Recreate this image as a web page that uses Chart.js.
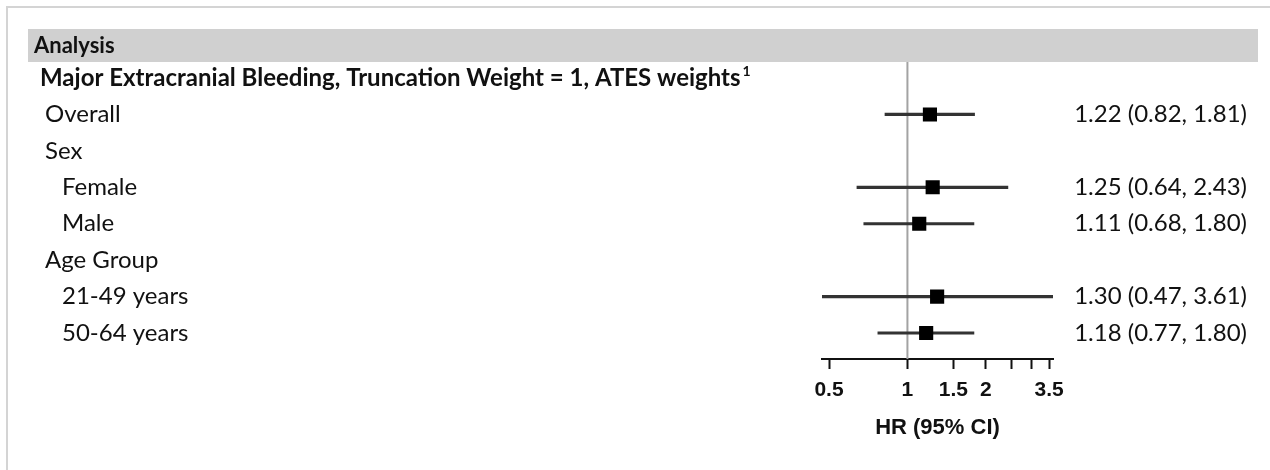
<!DOCTYPE html>
<html>
<head>
<meta charset="utf-8">
<script src="https://cdn.jsdelivr.net/npm/chart.js@4/dist/chart.umd.min.js"></script>
<style>
  html, body { margin: 0; padding: 0; background: #fff; }
  #wrap { width: 1270px; height: 470px; }
</style>
</head>
<body>
<div id="wrap"><canvas id="forest" width="1270" height="470"></canvas></div>
<script>
const heading = 'Analysis'
const outcome = 'Major Extracranial Bleeding, Truncation Weight = 1, ATES weights'
const rowLabels = ['Overall', 'Sex', 'Female', 'Male', 'Age Group', '21-49 years', '50-64 years']
const rowIndent = [0, 0, 1, 1, 0, 1, 1]
const hr = [1.22, null, 1.25, 1.11, null, 1.30, 1.18]
const ciLow = [0.82, null, 0.64, 0.68, null, 0.47, 0.77]
const ciHigh = [1.81, null, 2.43, 1.80, null, 3.61, 1.80]
const tickValues = [0.5, 1, 1.5, 2, 2.5, 3, 3.5]
const tickLabels = ['0.5', '1', '1.5', '2', '', '', '3.5']

const textFont = 'Lato, "Open Sans", sans-serif'
const axisFont = '"Liberation Sans", Arial, sans-serif'

// row 0 is the outcome title, data rows start at 1
const points = []
const intervals = []
hr.forEach((v, i) => {
    if (v === null) return
    points.push({x: v, y: i + 1})
    intervals.push({x: [ciLow[i], ciHigh[i]], y: i + 1})
})

const fmt = (v) => v.toFixed(2)

const tablePlugin = {
    id: 'forestTable',
    beforeDraw(chart) {
        const ctx = chart.ctx
        const y = chart.scales.y
        ctx.save()
        // outer frame
        ctx.strokeStyle = '#d4d4d4'
        ctx.lineWidth = 2
        ctx.beginPath()
        ctx.moveTo(7, 470)
        ctx.lineTo(7, 7)
        ctx.lineTo(1270, 7)
        ctx.stroke()
        // header band
        ctx.fillStyle = '#d0d0d0'
        ctx.fillRect(28, 29, 1230, 33)
        ctx.fillStyle = '#111'
        ctx.textBaseline = 'middle'
        ctx.font = 'bold 22px ' + textFont
        ctx.fillText(heading, 34, 46)
        // outcome title with superscript
        const ty = y.getPixelForValue(0)
        ctx.font = 'bold 24px ' + textFont
        ctx.fillText(outcome, 40, ty)
        const w = ctx.measureText(outcome).width
        ctx.font = 'bold 14px ' + textFont
        ctx.fillText('1', 40 + w + 2, ty - 7)
        // row labels and estimates
        ctx.font = '24px ' + textFont
        rowLabels.forEach((label, i) => {
            const py = y.getPixelForValue(i + 1)
            ctx.textAlign = 'left'
            ctx.fillText(label, 45 + rowIndent[i] * 17, py)
            if (hr[i] !== null) {
                ctx.textAlign = 'right'
                ctx.fillText(`${fmt(hr[i])} (${fmt(ciLow[i])}, ${fmt(ciHigh[i])})`, 1247, py)
            }
        })
        ctx.restore()
    },
    beforeDatasetsDraw(chart) {
        // reference line at HR = 1
        const ctx = chart.ctx
        const px = chart.scales.x.getPixelForValue(1)
        ctx.save()
        ctx.strokeStyle = '#a3a3a3'
        ctx.lineWidth = 2
        ctx.beginPath()
        ctx.moveTo(px, 62)
        ctx.lineTo(px, chart.chartArea.bottom)
        ctx.stroke()
        ctx.restore()
    }
}

new Chart(document.getElementById('forest'), {
    type: 'bar',
    data: {
        datasets: [{
            type: 'scatter',
            data: points,
            pointStyle: 'rect',
            pointRadius: 10,
            pointHoverRadius: 10,
            backgroundColor: '#000',
            borderWidth: 0,
            order: 1
        }, {
            type: 'bar',
            indexAxis: 'y',
            data: intervals,
            backgroundColor: '#333',
            borderWidth: 0,
            barThickness: 2.5,
            order: 2
        }]
    },
    options: {
        responsive: false,
        animation: false,
        events: [],
        layout: {
            padding: {left: 822, right: 217, top: 41.6, bottom: 0}
        },
        plugins: {
            legend: {display: false},
            tooltip: {enabled: false}
        },
        scales: {
            x: {
                type: 'logarithmic',
                offset: false,
                min: 0.47,
                max: 3.62,
                afterBuildTicks: (scale) => {
                    scale.ticks = tickValues.map(v => ({value: v}))
                },
                afterFit: (scale) => {
                    scale.height = 111
                },
                ticks: {
                    autoSkip: false,
                    maxRotation: 0,
                    padding: 9,
                    color: '#111',
                    font: {family: axisFont, size: 21, weight: 'bold'},
                    callback: (value, index) => tickLabels[index]
                },
                grid: {
                    offset: false,
                    drawOnChartArea: false,
                    drawTicks: true,
                    tickLength: 10,
                    tickWidth: 2,
                    tickColor: '#111'
                },
                border: {display: true, color: '#111', width: 2},
                title: {
                    display: true,
                    text: 'HR (95% CI)',
                    color: '#111',
                    font: {family: axisFont, size: 22, weight: 'bold'},
                    padding: {top: 0, bottom: 29}
                }
            },
            y: {
                type: 'linear',
                display: false,
                offset: false,
                grid: {offset: false},
                reverse: true,
                min: -1,
                max: 7.714
            }
        }
    },
    plugins: [tablePlugin]
})
</script>
</body>
</html>
